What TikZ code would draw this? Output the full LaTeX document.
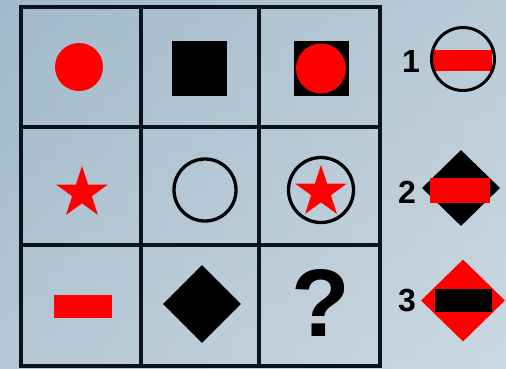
\documentclass[tikz,border=0pt]{standalone}
\usepackage{fontspec}
\setmainfont{Liberation Sans}
\usetikzlibrary{shapes.geometric}
\definecolor{bgtop}{HTML}{A3BACA}
\definecolor{bgbot}{HTML}{BBCCD8}
\definecolor{gridc}{HTML}{0B141C}
\definecolor{rd}{HTML}{FF0000}
\tikzset{
  gridline/.style={draw=gridc, line width=4pt},
  redfill/.style={fill=rd, draw=none},
  blackfill/.style={fill=black, draw=none},
  ring/.style={circle, draw=black, line width=3.3pt, fill=none, inner sep=0pt},
  redstar/.style={star, star points=5, star point ratio=2.6, fill=rd, draw=none, inner sep=0pt, shape border rotate=0},
  numlabel/.style={font=\bfseries\fontsize{32}{32}\selectfont, text=black, inner sep=0pt},
}
\begin{document}
\begin{tikzpicture}[x=1pt,y=-1pt]
\useasboundingbox (0,0) rectangle (506,368);
\shade[top color=bgtop, bottom color=bgbot] (0,0) rectangle (506,368);
\shade[left color=bgtop!0!bgtop, right color=white, opacity=0.25] (0,0) rectangle (506,368);
% grid
\draw[gridline] (20.5,7) rectangle (380,365.5);
\draw[gridline] (140.5,7) -- (140.5,365.5);
\draw[gridline] (258.5,7) -- (258.5,365.5);
\draw[gridline] (20.5,126.5) -- (380,126.5);
\draw[gridline] (20.5,245) -- (380,245);
% row 1
\node[circle, redfill, minimum size=48pt, inner sep=0pt] (r1c1) at (79,67) {};
\node[rectangle, blackfill, minimum size=55pt, inner sep=0pt] (r1c2) at (199,68.5) {};
\node[rectangle, blackfill, minimum size=55pt, inner sep=0pt] (r1c3sq) at (321,68.5) {};
\node[circle, redfill, minimum size=50pt, inner sep=0pt] (r1c3ci) at (321,68.5) {};
% row 2
\node[redstar, minimum size=54pt] (r2c1) at (82,193) {};
\node[ring, minimum size=62pt] (r2c2) at (205,190) {};
\node[ring, minimum size=65pt] (r2c3ci) at (321,190) {};
\node[redstar, minimum size=54pt] (r2c3st) at (321,192) {};
% row 3
\node[rectangle, redfill, minimum width=58pt, minimum height=23pt, inner sep=0pt] (r3c1) at (83,306.5) {};
\node[diamond, blackfill, minimum size=78pt, inner sep=0pt] (r3c2) at (202,304) {};
\node[font=\bfseries\fontsize{96}{96}\selectfont, inner sep=0pt] (r3c3) at (321,303) {?};
% options
\node[numlabel] (n1) at (411,61) {1};
\node[rectangle, redfill, minimum width=59pt, minimum height=21pt, inner sep=0pt] (o1bar) at (462,60.5) {};
\node[ring, minimum size=63pt, line width=3pt] (o1) at (463,59) {};
\node[numlabel] (n2) at (407,192) {2};
\node[diamond, blackfill, minimum width=78pt, minimum height=76pt, inner sep=0pt] (o2) at (461,188) {};
\node[rectangle, redfill, minimum width=60pt, minimum height=25pt, inner sep=0pt] (o2bar) at (460,190.5) {};
\node[numlabel] (n3) at (407,300) {3};
\node[diamond, redfill, minimum width=84pt, minimum height=82pt, inner sep=0pt] (o3) at (463,300.5) {};
\node[rectangle, blackfill, minimum width=57pt, minimum height=23pt, inner sep=0pt] (o3bar) at (463,300.5) {};
\end{tikzpicture}
\end{document}
